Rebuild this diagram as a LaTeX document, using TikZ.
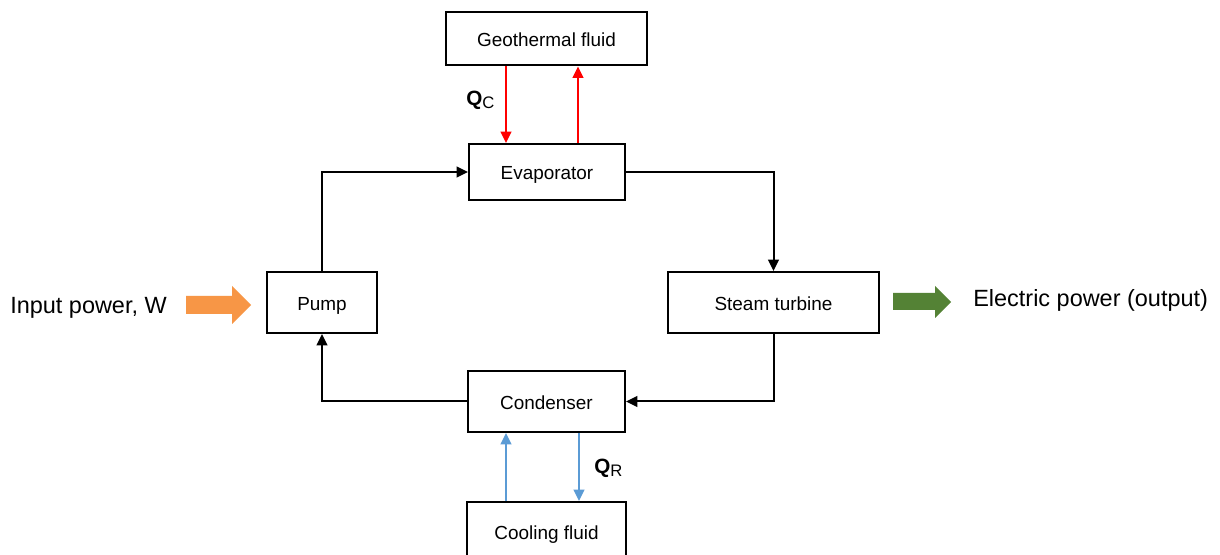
\documentclass[tikz,border=0pt]{standalone}
\usepackage{fontspec}
\setmainfont{Liberation Sans}
\usetikzlibrary{arrows.meta}
\definecolor{hotred}{RGB}{255,0,0}
\definecolor{coolblue}{RGB}{91,155,213}
\definecolor{inorange}{RGB}{247,150,70}
\definecolor{outgreen}{RGB}{84,130,53}
\begin{document}
\begin{tikzpicture}[x=0.75pt,y=-0.75pt,
  box/.style={draw, line width=1.5pt, inner sep=0pt, text height=12pt, text depth=0pt, font=\fontsize{14.2}{17}\selectfont},
  flow/.style={line width=1.5pt, -{Triangle[length=8.5pt,width=8pt]}},
  hot/.style={flow, draw=hotred},
  cold/.style={flow, draw=coolblue},
  outer/.style={anchor=base west, inner sep=0pt, font=\fontsize{17.6}{20}\selectfont},
  qlabel/.style={anchor=base west, inner sep=0pt}]
\useasboundingbox (0,0) rectangle (1220,555);
\fill[white] (0,0) rectangle (1220,555);
% boxes
\node[box, minimum width=201*0.75pt, minimum height=53*0.75pt] (geo) at (546.5,39) {Geothermal fluid};
\node[box, minimum width=156*0.75pt, minimum height=56*0.75pt] (evap) at (547,172) {Evaporator};
\node[box, minimum width=110*0.75pt, minimum height=61*0.75pt] (pump) at (322,302.5) {Pump};
\node[box, minimum width=211*0.75pt, minimum height=61*0.75pt] (turb) at (773.5,302.5) {Steam turbine};
\node[box, minimum width=157*0.75pt, minimum height=61*0.75pt] (cond) at (546.5,401.5) {Condenser};
\node[box, minimum width=159*0.75pt, minimum height=58*0.75pt] (cool) at (546.5,531) {Cooling fluid};
% cycle
\draw[flow] (pump.north) |- (evap.west);
\draw[flow] (evap.east) -| (turb.north);
\draw[flow] (turb.south) |- (cond.east);
\draw[flow] (cond.west) -| (pump.south);
% heat exchange
\coordinate (xa) at (506,0);
\coordinate (xb) at (578,0);
\coordinate (xc) at (506,0);
\coordinate (xd) at (579,0);
\draw[hot] (geo.south -| xa) -- (evap.north -| xa);
\draw[hot] (evap.north -| xb) -- (geo.south -| xb);
\draw[cold] (cool.north -| xc) -- (cond.south -| xc);
\draw[cold] (cond.south -| xd) -- (cool.north -| xd);
% labels
\node[qlabel] (qc) at (466,106) {\fontsize{15.5}{16}\selectfont\bfseries Q\fontsize{12.5}{13}\selectfont\mdseries\raisebox{-2.2pt}{C}};
\node[qlabel] (qr) at (594,474) {\fontsize{15.5}{16}\selectfont\bfseries Q\fontsize{12.5}{13}\selectfont\mdseries\raisebox{-2.2pt}{R}};
\node[outer] (inp) at (10,314) {Input power, W};
\node[outer] (outp) at (973,307) {Electric power (output)};
% big arrows
\fill[inorange] (186,296) -- (232,296) -- (232,286) -- (251,305) -- (232,324) -- (232,314) -- (186,314) -- cycle;
\fill[outgreen] (893,293) -- (935,293) -- (935,286) -- (951,302) -- (935,318) -- (935,310) -- (893,310) -- cycle;
\end{tikzpicture}
\end{document}
